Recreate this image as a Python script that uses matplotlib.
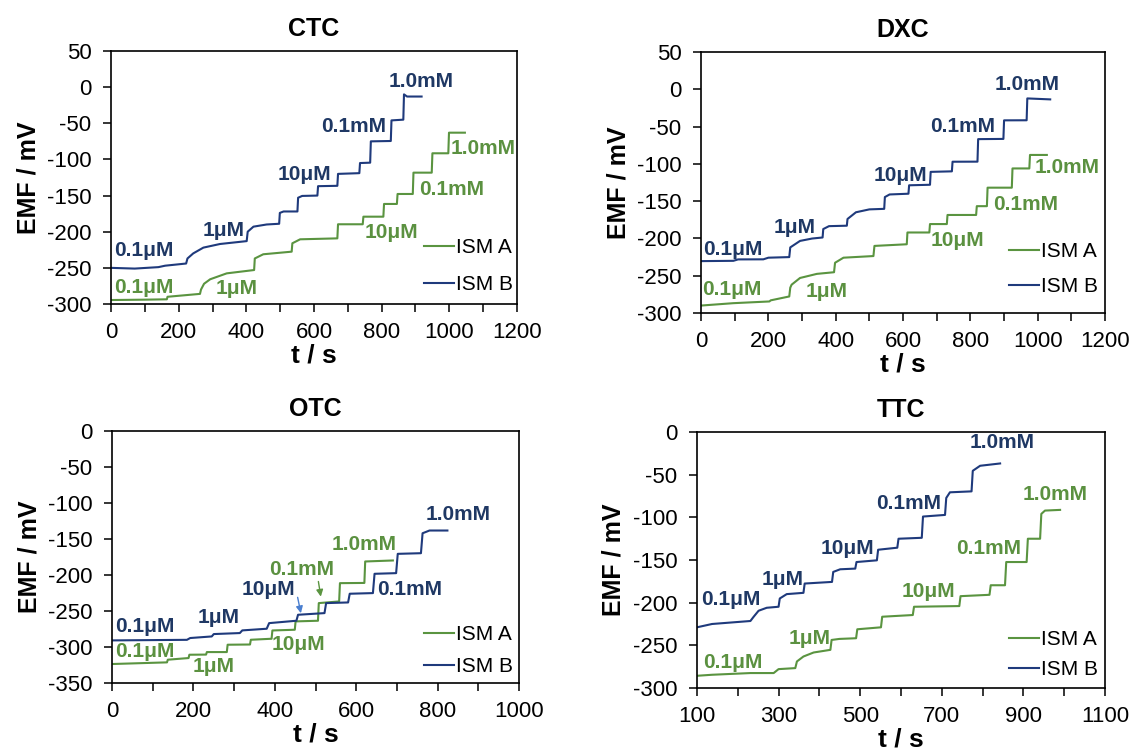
import numpy as np
import matplotlib
matplotlib.use("Agg")
import matplotlib.pyplot as plt
from matplotlib.ticker import FixedLocator

plt.rcParams['font.family'] = ['Liberation Sans', 'DejaVu Sans']
plt.rcParams['axes.unicode_minus'] = False

GREEN_LINE = '#5A9440'
GREEN_TEXT = '#5B9140'
BLUE_LINE = '#1F3A7C'
BLUE_TEXT = '#1F3864'
ARROW_BLUE = '#4A7FD0'

conc_labels = ['0.1μM', '1μM', '10μM', '0.1mM', '1.0mM']
series_names = ['ISM A', 'ISM B']

# ---- potential-time traces (t in s, EMF in mV) ----
# CTC
ctc_a_t = [0, 100, 165, 167, 263, 266, 275, 293, 342, 423, 425, 450, 534, 536, 559,
           669, 671, 744, 746, 805, 807, 845, 847, 892, 894, 948, 950, 997, 999, 1046]
ctc_a_e = [-294.5, -294, -293.5, -290, -286, -280, -272, -265.8, -257.6, -253, -237, -231.2, -227.6, -216, -210.5,
           -209.2, -189.7, -189.7, -179.2, -179.2, -161.6, -161.6, -147.8, -147.8, -118.3, -118.3, -91.5, -91.5, -63, -63]
ctc_b_t = [0, 70, 140, 160, 222, 226, 243, 273, 322, 401, 404, 421, 460, 497, 499, 510, 551,
           553, 565, 610, 612, 669, 671, 734, 736, 766, 768, 827, 829, 864, 866, 875, 918]
ctc_b_e = [-250, -251, -249, -247, -244, -237, -230, -222, -217, -213, -200, -193, -190, -189, -174, -172, -172,
           -153, -150.5, -150, -137, -136.5, -120, -119, -105, -104.5, -75, -74.5, -46, -45, -10, -13, -13]

# DXC
dxc_a_t = [0, 96, 203, 207, 262, 265, 269, 294, 344, 395, 398, 423, 512, 515, 611,
           613, 678, 680, 730, 732, 817, 819, 849, 851, 923, 925, 975, 977, 1027]
dxc_a_e = [-290, -286.8, -284.5, -283, -277.8, -266, -262, -253, -247.5, -245.3, -232.6, -225.8, -223.6, -210, -207.8,
           -192, -192, -180.7, -180.7, -168.5, -168.5, -156.7, -156.7, -131.9, -131.9, -106.1, -106.1, -88, -88]
dxc_b_t = [0, 96, 110, 185, 200, 262, 265, 294, 330, 361, 363, 380, 433, 435, 460, 500,
           544, 546, 560, 616, 618, 680, 682, 745, 747, 821, 823, 898, 900, 967, 969, 1037]
dxc_b_e = [-230.4, -230, -228.1, -228, -225.8, -225, -212, -203.3, -200.1, -198.7, -187.4, -183.5, -182.9, -173.9, -164.9, -161,
           -160.3, -144.5, -141, -140, -128.7, -128, -110.7, -110, -97.1, -97, -66.8, -66.5, -41.6, -41.5, -12.2, -13.5]

# OTC
otc_a_t = [0, 135, 137, 188, 190, 231, 233, 282, 284, 339, 341,
           392, 394, 449, 451, 506, 508, 558, 560, 620, 622, 690]
otc_a_e = [-323.6, -321.3, -317.6, -315.3, -310.7, -310.5, -307, -307, -296.8, -296.5, -289.9,
           -288.5, -277, -276, -264.4, -263.5, -239, -236.7, -211.3, -211, -181.2, -179.8]
otc_b_t = [0, 184, 192, 245, 250, 314, 320, 380, 386, 453, 457, 522,
           526, 580, 584, 641, 645, 698, 702, 759, 763, 780, 824]
otc_b_e = [-290.8, -290, -287.5, -285.3, -282, -280.6, -276.9, -274.6, -266.8, -263.5, -255.2, -252.9,
           -239, -238.1, -226, -225.1, -198.3, -197.4, -170.6, -169.7, -142, -138.2, -138.2]

# TTC
ttc_a_t = [100, 137, 231, 288, 300, 341, 345, 361, 386, 427, 430, 449, 490, 493, 551,
           554, 629, 632, 743, 746, 817, 820, 855, 858, 908, 911, 941, 944, 953, 990]
ttc_a_e = [-285.7, -284.5, -282.5, -282.5, -277.9, -276.7, -268.9, -263.1, -258.4, -255.3, -243.7, -242.5, -241.7, -231.2, -228.9,
           -216.5, -214.5, -204.8, -204, -192.4, -190.8, -179.6, -179.6, -152.4, -152.4, -125.1, -125.1, -96, -92.1, -91.3]
ttc_b_t = [100, 137, 231, 239, 251, 271, 300, 303, 320, 361, 364, 431, 434, 451, 488,
           491, 541, 544, 591, 594, 651, 654, 708, 711, 720, 773, 776, 794, 843]
ttc_b_e = [-228.9, -225, -221.5, -216.5, -209.5, -206, -204.8, -195.1, -190, -188.5, -177.6, -175.7, -164, -160.9, -160.1,
           -152.4, -150.4, -138, -135.6, -125.1, -124, -99.1, -97.2, -77.3, -70.7, -69.6, -45.5, -39.6, -36.9]

panels = [
    dict(title='CTC', a=(ctc_a_t, ctc_a_e), b=(ctc_b_t, ctc_b_e),
         xlim=(0, 1200), ylim=(-300, 50),
         rect=[0.0979, 0.5952, 0.3580, 0.3369],
         a_lab=[(96, -277), (371, -278), (830, -201), (1007, -142), (1099, -85)],
         b_lab=[(98, -226), (332, -198), (573, -121.5), (716, -54), (918, 7.5)],
         leg=(1.021, -0.011), legsp=0.875),
    dict(title='DXC', a=(dxc_a_t, dxc_a_e), b=(dxc_b_t, dxc_b_e),
         xlim=(0, 1200), ylim=(-300, 50),
         rect=[0.6182, 0.5832, 0.3563, 0.3475],
         a_lab=[(91, -269), (373, -271), (762, -203), (965, -154), (1086, -105)],
         b_lab=[(94, -214.5), (279, -185), (593, -115), (777, -50), (969, 7)],
         leg=(1.014, 0.016), legsp=0.78),
    dict(title='OTC', a=(otc_a_t, otc_a_e), b=(otc_b_t, otc_b_e),
         xlim=(0, 1000), ylim=(-350, 0),
         rect=[0.0988, 0.0905, 0.3589, 0.3356],
         a_lab=[(80, -306), (249, -327), (459, -297), (467, -193), (620, -158)],
         b_lab=[(80, -271.5), (261, -259), (384, -220.5), (732, -220.5), (851, -116.5)],
         leg=(1.016, -0.023), legsp=0.63),
    dict(title='TTC', a=(ttc_a_t, ttc_a_e), b=(ttc_b_t, ttc_b_e),
         xlim=(100, 1100), ylim=(-300, 0),
         rect=[0.6146, 0.0839, 0.3598, 0.3409],
         a_lab=[(188, -270), (376, -241.7), (667, -187.3), (814, -136.8), (978, -73.5)],
         b_lab=[(182, -196), (311, -173), (469, -137), (618, -84.3), (847, -12.4)],
         leg=(1.014, -0.014), legsp=0.54),
]

fig = plt.figure(figsize=(11.34, 7.51), dpi=100)

for p in panels:
    ax = fig.add_axes(p['rect'])
    ax.plot(*p['a'], color=GREEN_LINE, lw=1.5, label=series_names[0])
    ax.plot(*p['b'], color=BLUE_LINE, lw=1.5, label=series_names[1])

    for (x, y), s in zip(p['a_lab'], conc_labels):
        ax.text(x, y, s, color=GREEN_TEXT, fontsize=15, fontweight='bold',
                ha='center', va='center')
    for (x, y), s in zip(p['b_lab'], conc_labels):
        ax.text(x, y, s, color=BLUE_TEXT, fontsize=15, fontweight='bold',
                ha='center', va='center')

    x0, x1 = p['xlim']
    y0, y1 = p['ylim']
    ax.set_xlim(x0, x1)
    ax.set_ylim(y0, y1)
    ax.xaxis.set_major_locator(FixedLocator(np.arange(x0, x1 + 1, 200)))
    ax.xaxis.set_minor_locator(FixedLocator(np.arange(x0, x1 + 1, 100)))
    ax.yaxis.set_major_locator(FixedLocator(np.arange(y0, y1 + 1, 50)))
    ax.tick_params(axis='both', which='both', direction='out', length=6,
                   width=1.1, color='black', labelsize=16)
    ax.tick_params(axis='x', pad=7)
    ax.tick_params(axis='y', pad=8)
    for sp in ax.spines.values():
        sp.set_linewidth(1.2)
        sp.set_color('black')

    ax.set_title(p['title'], fontsize=18, fontweight='bold', pad=11)
    ax.set_xlabel('t / s', fontsize=19, fontweight='bold', labelpad=0)
    ax.set_ylabel('EMF / mV', fontsize=18, fontweight='bold', labelpad=5)

    ax.legend(loc='lower right', bbox_to_anchor=p['leg'], frameon=False,
              fontsize=15, handlelength=1.45, handletextpad=0.1,
              labelspacing=p['legsp'], borderaxespad=0.2)

# arrows pointing at the 10 µM (ISM B) and 0.1 mM (ISM A) steps in the OTC panel
ax_otc = fig.axes[2]
ax_otc.annotate('', xy=(464, -253), xytext=(456, -231),
                arrowprops=dict(arrowstyle='-|>', color=ARROW_BLUE, lw=1.0,
                                mutation_scale=10, shrinkA=0, shrinkB=0))
ax_otc.annotate('', xy=(513, -230), xytext=(507, -209),
                arrowprops=dict(arrowstyle='-|>', color=GREEN_LINE, lw=1.0,
                                mutation_scale=10, shrinkA=0, shrinkB=0))

fig.savefig('out.png', dpi=100)
